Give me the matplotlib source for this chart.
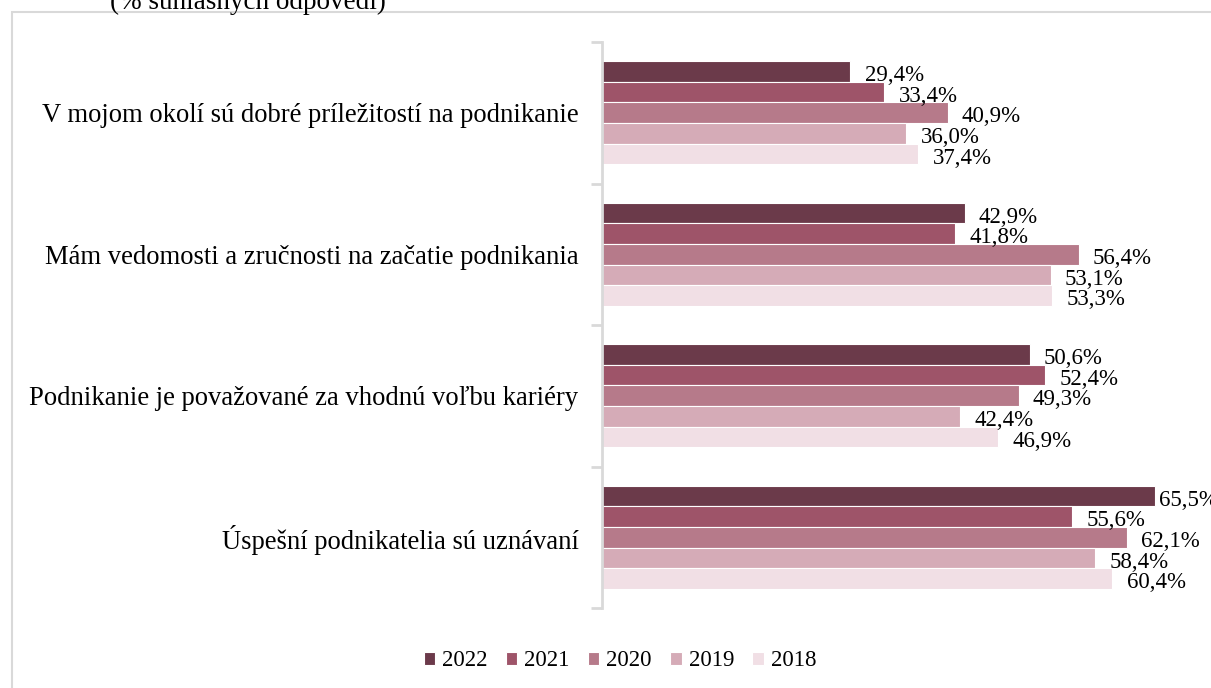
import numpy as np
import matplotlib.pyplot as plt
from matplotlib.patches import Rectangle

plt.rcParams['font.family'] = ['Liberation Serif', 'DejaVu Serif']

categories = [
    "V mojom okolí sú dobré príležitostí na podnikanie",
    "Mám vedomosti a zručnosti na začatie podnikania",
    "Podnikanie je považované za vhodnú voľbu kariéry",
    "Úspešní podnikatelia sú uznávaní",
]
years = ["2022", "2021", "2020", "2019", "2018"]
v2022 = [29.4, 42.9, 50.6, 65.5]
v2021 = [33.4, 41.8, 52.4, 55.6]
v2020 = [40.9, 56.4, 49.3, 62.1]
v2019 = [36.0, 53.1, 42.4, 58.4]
v2018 = [37.4, 53.3, 46.9, 60.4]
series = [v2022, v2021, v2020, v2019, v2018]
colors = ["#6B3A4A", "#9E5469", "#B67A8A", "#D5ABB7", "#F1DFE5"]

W, H = 1211, 688
fig = plt.figure(figsize=(W / 100, H / 100), dpi=100)

# frame around the chart area (cut at right/bottom)
fig.add_artist(Rectangle((12 / W, -0.1), 1.2, (H - 12) / H + 0.1,
                         transform=fig.transFigure, fill=False,
                         edgecolor="#D9D9D9", linewidth=1.5))
fig.text(248 / W, 1 - 9 / H, "(% súhlasných odpovedí)", ha="center", va="baseline",
         fontsize=19.5, color="black")

ax = fig.add_axes([602 / W, (H - 608) / H, (W - 602) / W, 566 / H])
ax.set_xlim(0, (W - 602) / 8.45)
ax.set_ylim(3.5, -0.5)

n = len(series)
bh = 0.146
y = np.arange(len(categories))
for i, (vals, yr, c) in enumerate(zip(series, years, colors)):
    pos = y + (i - (n - 1) / 2) * bh
    ax.barh(pos, vals, height=bh, color=c, edgecolor="white", linewidth=0.8, label=yr)
    for p, v in zip(pos, vals):
        # labels near the right edge get pushed back like in the original
        lx = min(v + 1.7, 65.9)
        ax.text(lx, p + 0.03, f"{v:.1f}%".replace(".", ","), va="center",
                ha="left", fontsize=16.5, clip_on=False)

for s in ["top", "right", "bottom"]:
    ax.spines[s].set_visible(False)
ax.spines["left"].set_color("#D9D9D9")
ax.spines["left"].set_linewidth(2)
ax.set_xticks([])
ax.set_yticks(np.arange(-0.5, 4, 1))
ax.set_yticklabels([])
ax.tick_params(axis="y", which="major", length=8, width=2, color="#D9D9D9")
ax.set_yticks(y, minor=True)
ax.set_yticklabels(categories, minor=True, fontsize=19.2)
ax.tick_params(axis="y", which="minor", length=0, pad=17)

fig.legend(loc="center", bbox_to_anchor=(620 / W, 1 - 661 / H), ncol=5, frameon=False,
           fontsize=16.5, handlelength=0.5, handleheight=0.5, handletextpad=0.3,
           columnspacing=0.8)

fig.savefig("out.png", dpi=100)
